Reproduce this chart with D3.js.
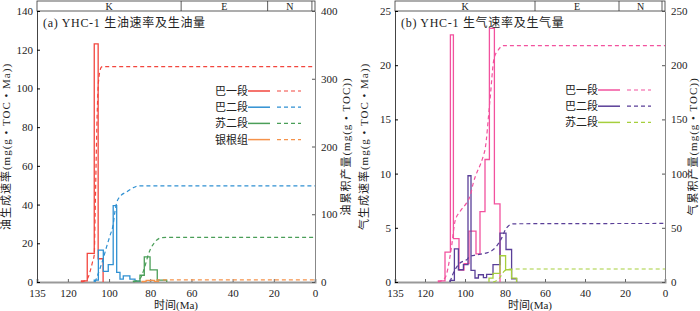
<!DOCTYPE html>
<html>
<head>
<meta charset="utf-8">
<script src="https://cdn.jsdelivr.net/npm/d3@7"></script>
<style>
  body { margin: 0; background: #fff; }
  svg { display: block; }
  text { font-family: "Liberation Serif", "Noto Sans CJK SC", serif; fill: #222; }
</style>
</head>
<body>
<div id="chart"></div>
<script>
// geological periods across the top band (Ma)
const eraBounds = [135, 65, 23, 1.5, 0];
const eraNames = ["K", "E", "N", ""];
const timeTicks = [135, 120, 100, 80, 60, 40, 20, 0];

// (a) oil generation rate: bin edges (Ma) and rate per bin
const oilBa1Edges = [113.4, 110.6, 107.2, 105.3, 102.9];
const oilBa1Rate = [0.6, 14.8, 123, 12];
const oilBa2Edges = [107.2, 105.2, 102.8, 100.4, 98.0, 96.3, 94.7, 93.1, 89.9, 87.4, 85.0];
const oilBa2Rate = [1, 16.5, 5.5, 9, 39.5, 5, 1.5, 3.2, 1.5, 0.5];
const oilSu2Edges = [88.2, 85.0, 82.9, 80.1, 76.6, 72.0];
const oilSu2Rate = [0.5, 3.5, 13, 6.3, 1];
const oilYgEdges = [84, 82, 78, 76];
const oilYgRate = [0.3, 0.8, 0.3];

// (a) cumulative oil [Ma, value]
const oilBa1Cum = [[113.4, 0], [111, 3], [110, 8], [109, 18], [108, 30], [107.2, 40], [106.8, 95], [106.3, 175], [105.8, 245], [105.3, 288], [104.9, 303], [104.4, 312], [103.8, 317], [103, 318], [0, 318]];
const oilBa2Cum = [[106.8, 0], [104.4, 20], [102.8, 35], [101.2, 52], [99.6, 68], [98.0, 85], [97.1, 105], [96.3, 117], [94.7, 126], [91.5, 133], [88.3, 139], [85.8, 142], [0, 142]];
const oilSu2Cum = [[88.2, 0], [85, 5], [82.7, 22], [81, 40], [80, 48], [78, 58], [76.8, 62], [74.5, 65.5], [72, 66], [0, 66]];
const oilYgCum = [[84, 0], [82, 0.8], [80, 2], [78, 2.8], [76, 3], [0, 3]];

// (b) gas generation rate
const gasBa1Edges = [113.3, 110, 107.3, 105.8, 103, 100.5, 98, 94.5, 92.5, 90, 87.8, 85.3, 82.5];
const gasBa1Rate = [0.1, 2.75, 22.8, 4, 1.1, 1.7, 4.7, 2.6, 6.5, 11.3, 23.4, 7.2];
const gasBa2Edges = [107.5, 105.3, 103.3, 100.8, 98.5, 97.0, 95.0, 93.3, 90.8, 89.2, 86.0, 82.5, 79.5, 76.7, 74.2];
const gasBa2Rate = [0.15, 3.05, 1.13, 1.6, 9.8, 1.07, 0.37, 0.67, 0.4, 0.7, 1.6, 4.5, 3.0, 0.3];
const gasSu2Edges = [88, 86, 82.5, 79.7, 76.7, 74.2];
const gasSu2Rate = [0.35, 0.8, 2.42, 1.13, 0.35];

// (b) cumulative gas
const gasBa1Cum = [[113.5, 0], [110, 3.7], [106.7, 33], [105, 56], [102.5, 65], [99.2, 73], [97.5, 79], [95.9, 91], [90.9, 116], [90, 122], [87.5, 168], [85.5, 206], [83.4, 214], [80.9, 218], [0, 218]];
const gasBa2Cum = [[107.5, 0], [105.8, 8.3], [102.5, 17.5], [99.2, 20.5], [97.5, 23.6], [94.2, 25], [87.5, 28], [84.2, 33], [81.7, 40.5], [79.2, 50], [75.8, 53.7], [0, 54]];
const gasSu2Cum = [[86, 0], [84.5, 1], [83, 3], [81.7, 6.5], [80.5, 9.8], [79, 11.3], [77, 12], [0, 12]];

const W = 700, H = 311;
const yTop = 11, yBot = 282;

const svg = d3.select("#chart").append("svg")
    .attr("width", W)
    .attr("height", H);

function stepPoints(edges, rates) {
    const pts = [[edges[0], 0]];
    rates.forEach((v, i) => {
        pts.push([edges[i], v]);
        pts.push([edges[i + 1], v]);
    });
    pts.push([edges[edges.length - 1], 0]);
    return pts;
}

function drawPanel(p) {
    const x = d3.scaleLinear().domain([135, 0]).range([p.x0, p.x1]);
    const yL = d3.scaleLinear().domain([0, p.maxL]).range([yBot, yTop]);
    const yR = d3.scaleLinear().domain([0, p.maxR]).range([yBot, yTop]);
    const g = svg.append("g");

    // top era band
    g.append("rect")
        .attr("x", p.x0).attr("y", 1)
        .attr("width", p.x1 - p.x0).attr("height", yTop - 1)
        .attr("fill", "none").attr("stroke", "#333").attr("stroke-width", 0.8);
    eraBounds.slice(1, -1).forEach(b => {
        g.append("line")
            .attr("x1", x(b)).attr("x2", x(b))
            .attr("y1", 1).attr("y2", yTop)
            .attr("stroke", "#333").attr("stroke-width", 0.8);
    });
    eraNames.forEach((n, i) => {
        g.append("text")
            .attr("x", x((eraBounds[i] + eraBounds[i + 1]) / 2))
            .attr("y", 9.5)
            .attr("text-anchor", "middle")
            .attr("font-size", 10)
            .text(n);
    });

    // axes
    const axB = g.append("g").attr("transform", `translate(0,${yBot})`)
        .call(d3.axisBottom(x).tickValues(timeTicks).tickSize(-3).tickPadding(7));
    axB.select(".domain").attr("stroke", "#999").attr("stroke-width", 2);
    axB.selectAll(".tick line").attr("stroke", "#666");

    const axL = g.append("g").attr("transform", `translate(${p.x0},0)`)
        .call(d3.axisLeft(yL).ticks(p.maxL / p.stepL).tickSize(-3).tickPadding(4));
    axL.select(".domain").attr("stroke", "#444");

    const axR = g.append("g").attr("transform", `translate(${p.x1},0)`)
        .call(d3.axisRight(yR).ticks(p.maxR / p.stepR).tickSizeInner(-3).tickSizeOuter(0).tickPadding(6));
    axR.select(".domain").attr("stroke", "#888");
    axR.selectAll(".tick line").attr("stroke", "#555");

    g.selectAll(".tick text").attr("font-size", 11).attr("fill", "#222")
        .attr("font-family", "Liberation Serif, serif");

    // series
    const stepLine = d3.line().x(d => x(d[0])).y(d => yL(d[1]));
    const cumLine = d3.line().x(d => x(d[0])).y(d => yR(d[1])).curve(d3.curveMonotoneX);

    p.series.forEach(s => {
        g.append("path")
            .attr("d", stepLine(stepPoints(s.edges, s.rate)))
            .attr("fill", "none")
            .attr("stroke", s.color)
            .attr("stroke-width", 1.3)
            .attr("stroke-linejoin", "miter");
    });
    p.series.forEach(s => {
        g.append("path")
            .attr("d", cumLine(s.cum))
            .attr("fill", "none")
            .attr("stroke", s.color)
            .attr("stroke-width", 1.2)
            .attr("stroke-dasharray", "4,3");
    });

    // title
    g.append("text")
        .attr("x", p.x0 + 6).attr("y", 27)
        .attr("font-size", 12)
        .attr("letter-spacing", 0.7)
        .text(p.title);

    // legend
    p.series.forEach((s, i) => {
        const ly = p.legY + i * 16.2;
        g.append("text")
            .attr("x", p.legX).attr("y", ly + 4)
            .attr("text-anchor", "end")
            .attr("font-size", 11)
            .attr("fill", "#333")
            .text(s.name);
        g.append("line")
            .attr("x1", p.legX).attr("x2", p.legX + 22)
            .attr("y1", ly).attr("y2", ly)
            .attr("stroke", s.color).attr("stroke-width", 1.5);
        g.append("line")
            .attr("x1", p.legX + 29).attr("x2", p.legX + 53)
            .attr("y1", ly).attr("y2", ly)
            .attr("stroke", s.color).attr("stroke-width", 1.2)
            .attr("stroke-dasharray", "4,3");
    });

    // axis titles
    g.append("text")
        .attr("transform", `translate(${p.labLX},${(yTop + yBot) / 2}) rotate(-90)`)
        .attr("text-anchor", "middle")
        .attr("font-size", 11)
        .attr("letter-spacing", 1)
        .text(p.labL);
    g.append("text")
        .attr("transform", `translate(${p.labRX},${(yTop + yBot) / 2}) rotate(-90)`)
        .attr("text-anchor", "middle")
        .attr("font-size", 11)
        .attr("letter-spacing", 1)
        .text(p.labR);
    g.append("text")
        .attr("x", (p.x0 + p.x1) / 2).attr("y", 309)
        .attr("text-anchor", "middle")
        .attr("font-size", 11)
        .text("时间(Ma)");
}

drawPanel({
    x0: 37, x1: 315, maxL: 140, stepL: 20, maxR: 400, stepR: 100,
    title: "(a) YHC-1 生油速率及生油量",
    legX: 248, legY: 91,
    labLX: 10, labRX: 350,
    labL: "油生成速率(mg(g • TOC • Ma))",
    labR: "油累积产量(mg(g • TOC))",
    series: [
        { name: "巴一段", color: "#f2463e", edges: oilBa1Edges, rate: oilBa1Rate, cum: oilBa1Cum },
        { name: "巴二段", color: "#2f90d2", edges: oilBa2Edges, rate: oilBa2Rate, cum: oilBa2Cum },
        { name: "苏二段", color: "#4a9e58", edges: oilSu2Edges, rate: oilSu2Rate, cum: oilSu2Cum },
        { name: "银根组", color: "#f5924a", edges: oilYgEdges, rate: oilYgRate, cum: oilYgCum }
    ]
});

drawPanel({
    x0: 395, x1: 665, maxL: 25, stepL: 5, maxR: 250, stepR: 50,
    title: "(b) YHC-1 生气速率及生气量",
    legX: 598, legY: 90,
    labLX: 368, labRX: 697,
    labL: "气生成速率(mg(g • TOC • Ma))",
    labR: "气累积产量(mg(g • TOC))",
    series: [
        { name: "巴一段", color: "#f2529e", edges: gasBa1Edges, rate: gasBa1Rate, cum: gasBa1Cum },
        { name: "巴二段", color: "#5a3f98", edges: gasBa2Edges, rate: gasBa2Rate, cum: gasBa2Cum },
        { name: "苏二段", color: "#a6cf3c", edges: gasSu2Edges, rate: gasSu2Rate, cum: gasSu2Cum }
    ]
});
</script>
</body>
</html>
